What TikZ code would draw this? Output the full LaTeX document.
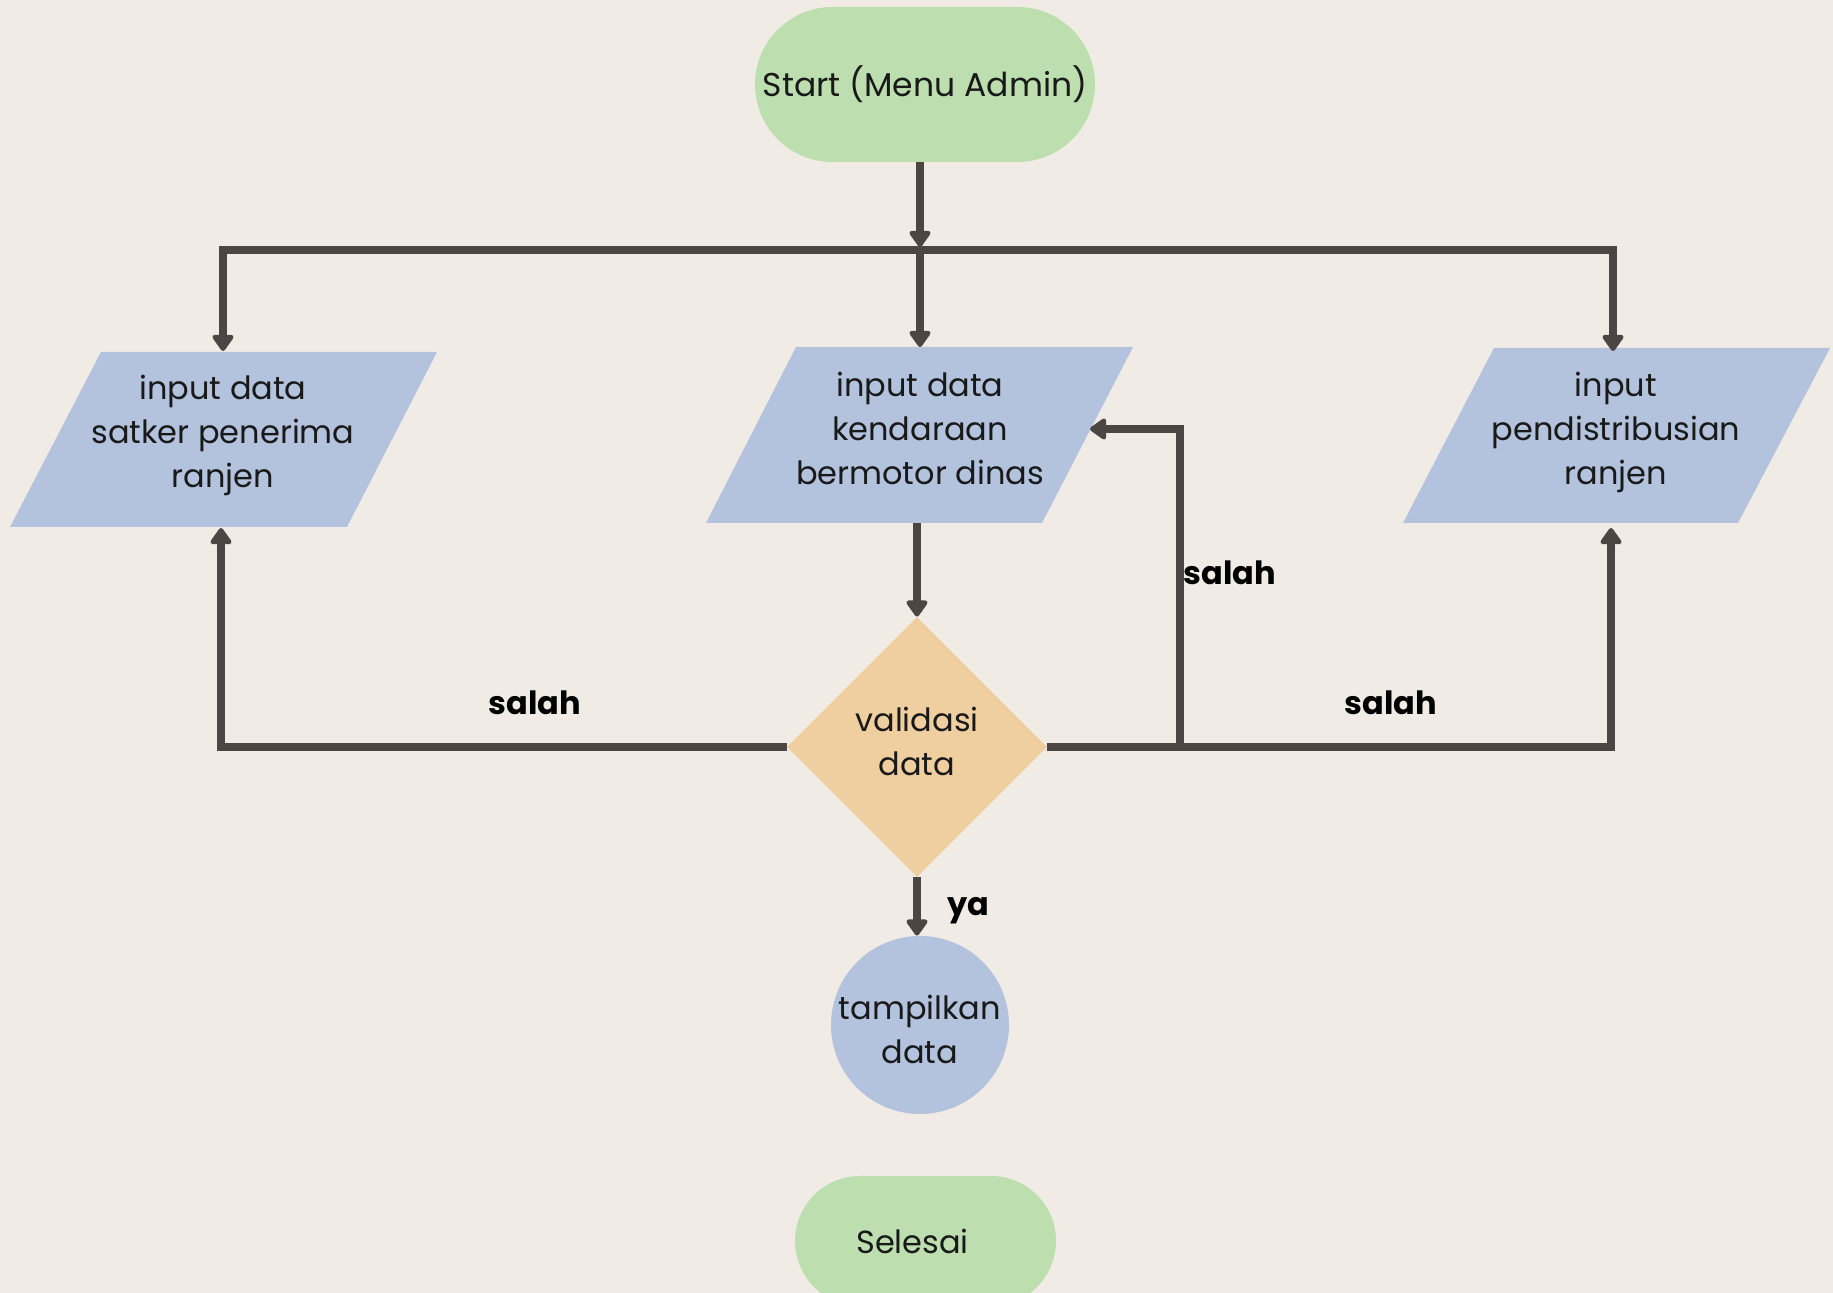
\documentclass[tikz,border=0pt]{standalone}
\usepackage{fontspec}
\setmainfont{Poppins}
\usetikzlibrary{arrows.meta,shapes.geometric,shapes.misc}
\definecolor{bgc}{RGB}{240,235,229}
\definecolor{greenc}{RGB}{189,223,176}
\definecolor{bluec}{RGB}{179,195,221}
\definecolor{orangec}{RGB}{239,207,160}
\definecolor{linec}{RGB}{75,70,66}
\begin{document}
\begin{tikzpicture}[x=0.5pt,y=-0.5pt,
  flow/.style={draw=linec, line width=4pt, line join=miter, -{Triangle[width=12pt,length=9pt,round]}},
  txt/.style={font=\fontsize{16}{22}\selectfont, align=center, text=black!90},
  lbl/.style={font=\fontsize{16}{18}\selectfont\bfseries, text=black, anchor=base},
  termc/.style={rounded rectangle, fill=greenc, inner sep=0pt},
  iobox/.style={fill=bluec}]
\useasboundingbox (0,0) rectangle (1833,1293);
\fill[bgc] (0,0) rectangle (1833,1293);

% start
\node[termc, txt, font=\fontsize{16.5}{22}\selectfont, minimum width=170pt, minimum height=77.5pt] (start) at (925,84.5) {Start (Menu Admin)};

% parallelograms
\fill[iobox] (101,352) -- (437,352) -- (347,527) -- (10,527) -- cycle;
\fill[iobox] (796,347) -- (1133,347) -- (1042,523) -- (706,523) -- cycle;
\fill[iobox] (1494,348) -- (1830,348) -- (1738,523) -- (1403,523) -- cycle;
\node[txt] (satker) at (223,435) {input data\\satker penerima\\ranjen};
\node[txt] (kend) at (920,428) {input data\\kendaraan\\bermotor dinas};
\node[txt] (distr) at (1616,432) {input\\pendistribusian\\ranjen};
\coordinate (satkerTop) at (223,351);
\coordinate (satkerBot) at (221,528);
\coordinate (kendTop) at (920,347);
\coordinate (kendBot) at (917,523);
\coordinate (kendRight) at (1090,429);
\coordinate (distrTop) at (1613,351);
\coordinate (distrBot) at (1611,528);

% decision
\node[diamond, fill=orangec, minimum width=130pt, minimum height=130pt, inner sep=0pt] (val) at (917,747) {};
\node[txt] (valtxt) at (917,741) {validasi\\data};

% show data
\node[circle, fill=bluec, minimum size=89pt, inner sep=0pt] (show) at (920,1025) {};
\node[txt] (showtxt) at (920,1029) {tampilkan\\data};

% end
\node[termc, txt, minimum width=130.5pt, minimum height=65pt] (end) at (925.5,1241) {\hspace*{-13pt}Selesai};

% bus
\coordinate (busC) at (920,250);
\coordinate (busL) at (223,250);
\coordinate (busR) at (1613,250);
\coordinate (join) at (1180,747);

\draw[flow] (start.south -| busC) -- (920,247);
\draw[flow] (busC) -- (busL) -- (satkerTop);
\draw[flow] (busC) -- (busR) -- (distrTop);
\draw[flow] (busC) -- (kendTop);
\draw[flow] (kendBot) -- (val.north);
\draw[flow] (val.west) -- (221,747) -- (satkerBot);
\draw[flow] (val.east) -- (1611,747) -- (distrBot);
\draw[flow] (join) -- (1180,429) -- (kendRight);
\draw[flow] (val.south) -- (val.south |- show.north);

% labels
\node[lbl] (l1) at (535,715) {salah};
\node[lbl] (l2) at (1230,585) {salah};
\node[lbl] (l3) at (1391,715) {salah};
\node[lbl] (l4) at (968,916) {ya};
\end{tikzpicture}
\end{document}
